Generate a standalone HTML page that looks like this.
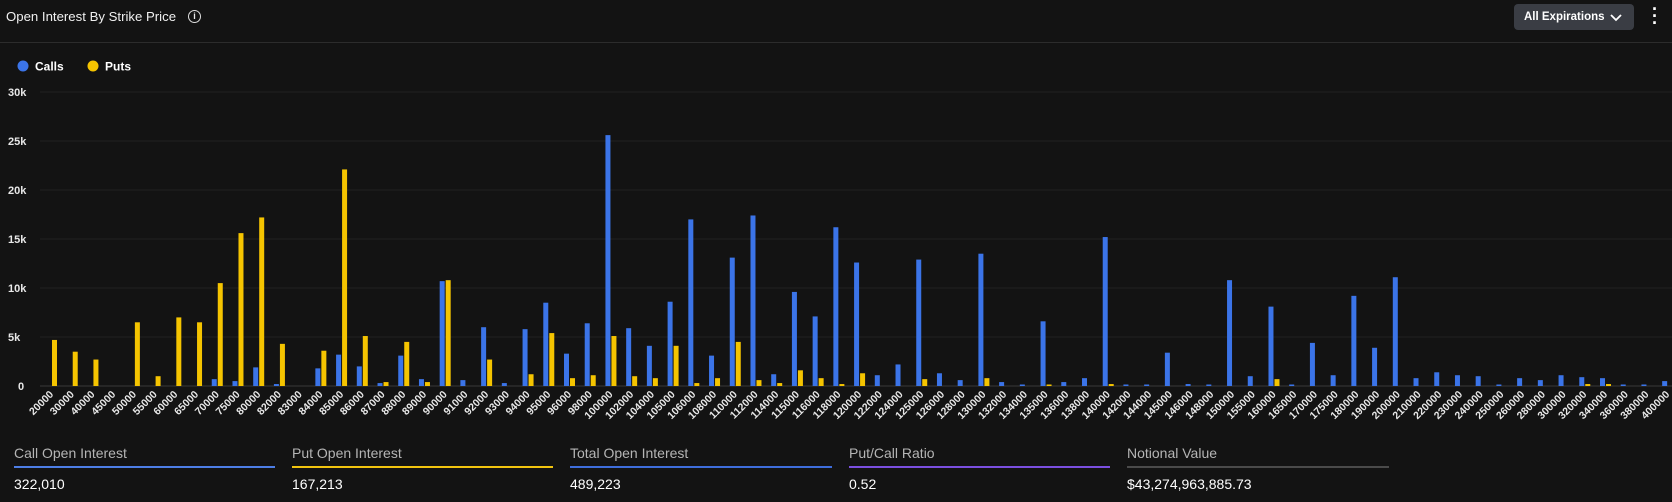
<!DOCTYPE html>
<html><head><meta charset="utf-8">
<style>
html,body{margin:0;padding:0;background:#131313;width:1672px;height:502px;overflow:hidden;font-family:"Liberation Sans",sans-serif;color:#e8e8e8}
#wrap{position:relative;width:1672px;height:502px}
.t{position:absolute;white-space:nowrap}
</style></head><body><div id="wrap">
<div class="t" style="left:6px;top:9px;font-size:13.2px;color:#f0f0f0">Open Interest By Strike Price</div>
<div class="t" style="left:188px;top:10px;width:11px;height:11px;border:1.3px solid #ddd;border-radius:50%;font-size:9px;line-height:11px;text-align:center;font-weight:bold">i</div>
<div style="position:absolute;left:1514px;top:4px;width:120px;height:26px;background:#3a3d44;border-radius:4px"></div>
<div class="t" style="left:1524px;top:11px;font-size:11.5px;font-weight:bold;color:#fff">All Expirations</div>
<svg style="position:absolute;left:1610px;top:13px" width="12" height="10"><path d="M1 2 L6 7 L11 2" stroke="#fff" stroke-width="1.8" fill="none"/></svg>
<div class="t" style="left:1652px;top:6px;font-size:18px;font-weight:bold;line-height:7px;color:#fff">·<br>·<br>·</div>
<div style="position:absolute;left:0;top:42px;width:1672px;height:1px;background:#2c2c2c"></div>
<svg id="ch" style="position:absolute;left:0;top:0" width="1672" height="502"></svg>
<div style="position:absolute;left:14px;top:466px;width:261px;height:2px;background:#4d7ee6"></div>
<div style="position:absolute;left:292px;top:466px;width:261px;height:2px;background:#f1c40f"></div>
<div style="position:absolute;left:570px;top:466px;width:262px;height:2px;background:#3e6ddb"></div>
<div style="position:absolute;left:849px;top:466px;width:261px;height:2px;background:#7b4fe0"></div>
<div style="position:absolute;left:1127px;top:466px;width:262px;height:2px;background:#4a4a4a"></div>
<div class="t" style="left:14px;top:445px;font-size:14px;color:#b5b5b5">Call Open Interest</div>
<div class="t" style="left:292px;top:445px;font-size:14px;color:#b5b5b5">Put Open Interest</div>
<div class="t" style="left:570px;top:445px;font-size:14px;color:#b5b5b5">Total Open Interest</div>
<div class="t" style="left:849px;top:445px;font-size:14px;color:#b5b5b5">Put/Call Ratio</div>
<div class="t" style="left:1127px;top:445px;font-size:14px;color:#b5b5b5">Notional Value</div>
<div class="t" style="left:14px;top:476px;font-size:14px;color:#fff">322,010</div>
<div class="t" style="left:292px;top:476px;font-size:14px;color:#fff">167,213</div>
<div class="t" style="left:570px;top:476px;font-size:14px;color:#fff">489,223</div>
<div class="t" style="left:849px;top:476px;font-size:14px;color:#fff">0.52</div>
<div class="t" style="left:1127px;top:476px;font-size:14px;color:#fff">$43,274,963,885.73</div>
</div>
<script>
var L=["20000","30000","40000","45000","50000","55000","60000","65000","70000","75000","80000","82000","83000","84000","85000","86000","87000","88000","89000","90000","91000","92000","93000","94000","95000","96000","98000","100000","102000","104000","105000","106000","108000","110000","112000","114000","115000","116000","118000","120000","122000","124000","125000","126000","128000","130000","132000","134000","135000","136000","138000","140000","142000","144000","145000","146000","148000","150000","155000","160000","165000","170000","175000","180000","190000","200000","210000","220000","230000","240000","250000","260000","280000","300000","320000","340000","360000","380000","400000"];
var C=[0,0,0,0,0,0,0,0,0.7,0.5,1.9,0.2,0,1.8,3.2,2.0,0.3,3.1,0.7,10.7,0.6,6.0,0.3,5.8,8.5,3.3,6.4,25.6,5.9,4.1,8.6,17.0,3.1,13.1,17.4,1.2,9.6,7.1,16.2,12.6,1.1,2.2,12.9,1.3,0.6,13.5,0.4,0.1,6.6,0.4,0.8,15.2,0.1,0.1,3.4,0.2,0.1,10.8,1.0,8.1,0.1,4.4,1.1,9.2,3.9,11.1,0.8,1.4,1.1,1.0,0.1,0.8,0.6,1.1,0.9,0.8,0.1,0.1,0.5];
var P=[4.7,3.5,2.7,0,6.5,1.0,7.0,6.5,10.5,15.6,17.2,4.3,0,3.6,22.1,5.1,0.4,4.5,0.4,10.8,0,2.7,0,1.2,5.4,0.8,1.1,5.1,1.0,0.8,4.1,0.3,0.8,4.5,0.6,0.3,1.6,0.8,0.2,1.3,0,0,0.7,0,0,0.8,0,0,0.1,0,0,0.2,0,0,0,0,0,0,0,0.7,0,0,0,0,0,0,0,0,0,0,0,0,0,0,0.2,0.2,0,0,0];
var s='',B=386,K=9.8;
s+='<circle cx="23" cy="66" r="5.5" fill="#3b74e8"/><text x="35" y="70.5" font-size="12" font-weight="bold" fill="#fff">Calls</text>';
s+='<circle cx="93" cy="66" r="5.5" fill="#f5c400"/><text x="105" y="70.5" font-size="12" font-weight="bold" fill="#fff">Puts</text>';
var yl=["0","5k","10k","15k","20k","25k","30k"];
for(var g=0;g<=6;g++){var y=B-g*49;s+='<line x1="40" x2="1672" y1="'+y+'" y2="'+y+'" stroke="'+(g?'#222':'#3a3a3a')+'" stroke-width="1"/>';
s+='<text x="'+(g?8:18)+'" y="'+(y+4)+'" font-size="11" font-weight="bold" fill="#e8e8e8">'+yl[g]+'</text>';}
for(var i=0;i<L.length;i++){var x=46+20.72*i;
if(C[i]>0){var h=Math.max(1.5,C[i]*K);s+='<rect x="'+x+'" y="'+(B-h)+'" width="5" height="'+h+'" fill="#3b74e8"/>';}
if(P[i]>0){var h=Math.max(1.5,P[i]*K);s+='<rect x="'+(x+6)+'" y="'+(B-h)+'" width="5" height="'+h+'" fill="#f5c400"/>';}
var cx=x+8;s+='<text transform="translate('+cx+',395) rotate(-45)" text-anchor="end" font-size="10.5" font-weight="bold" fill="#e8e8e8">'+L[i]+'</text>';}
document.getElementById('ch').innerHTML=s;
</script>
</body></html>
